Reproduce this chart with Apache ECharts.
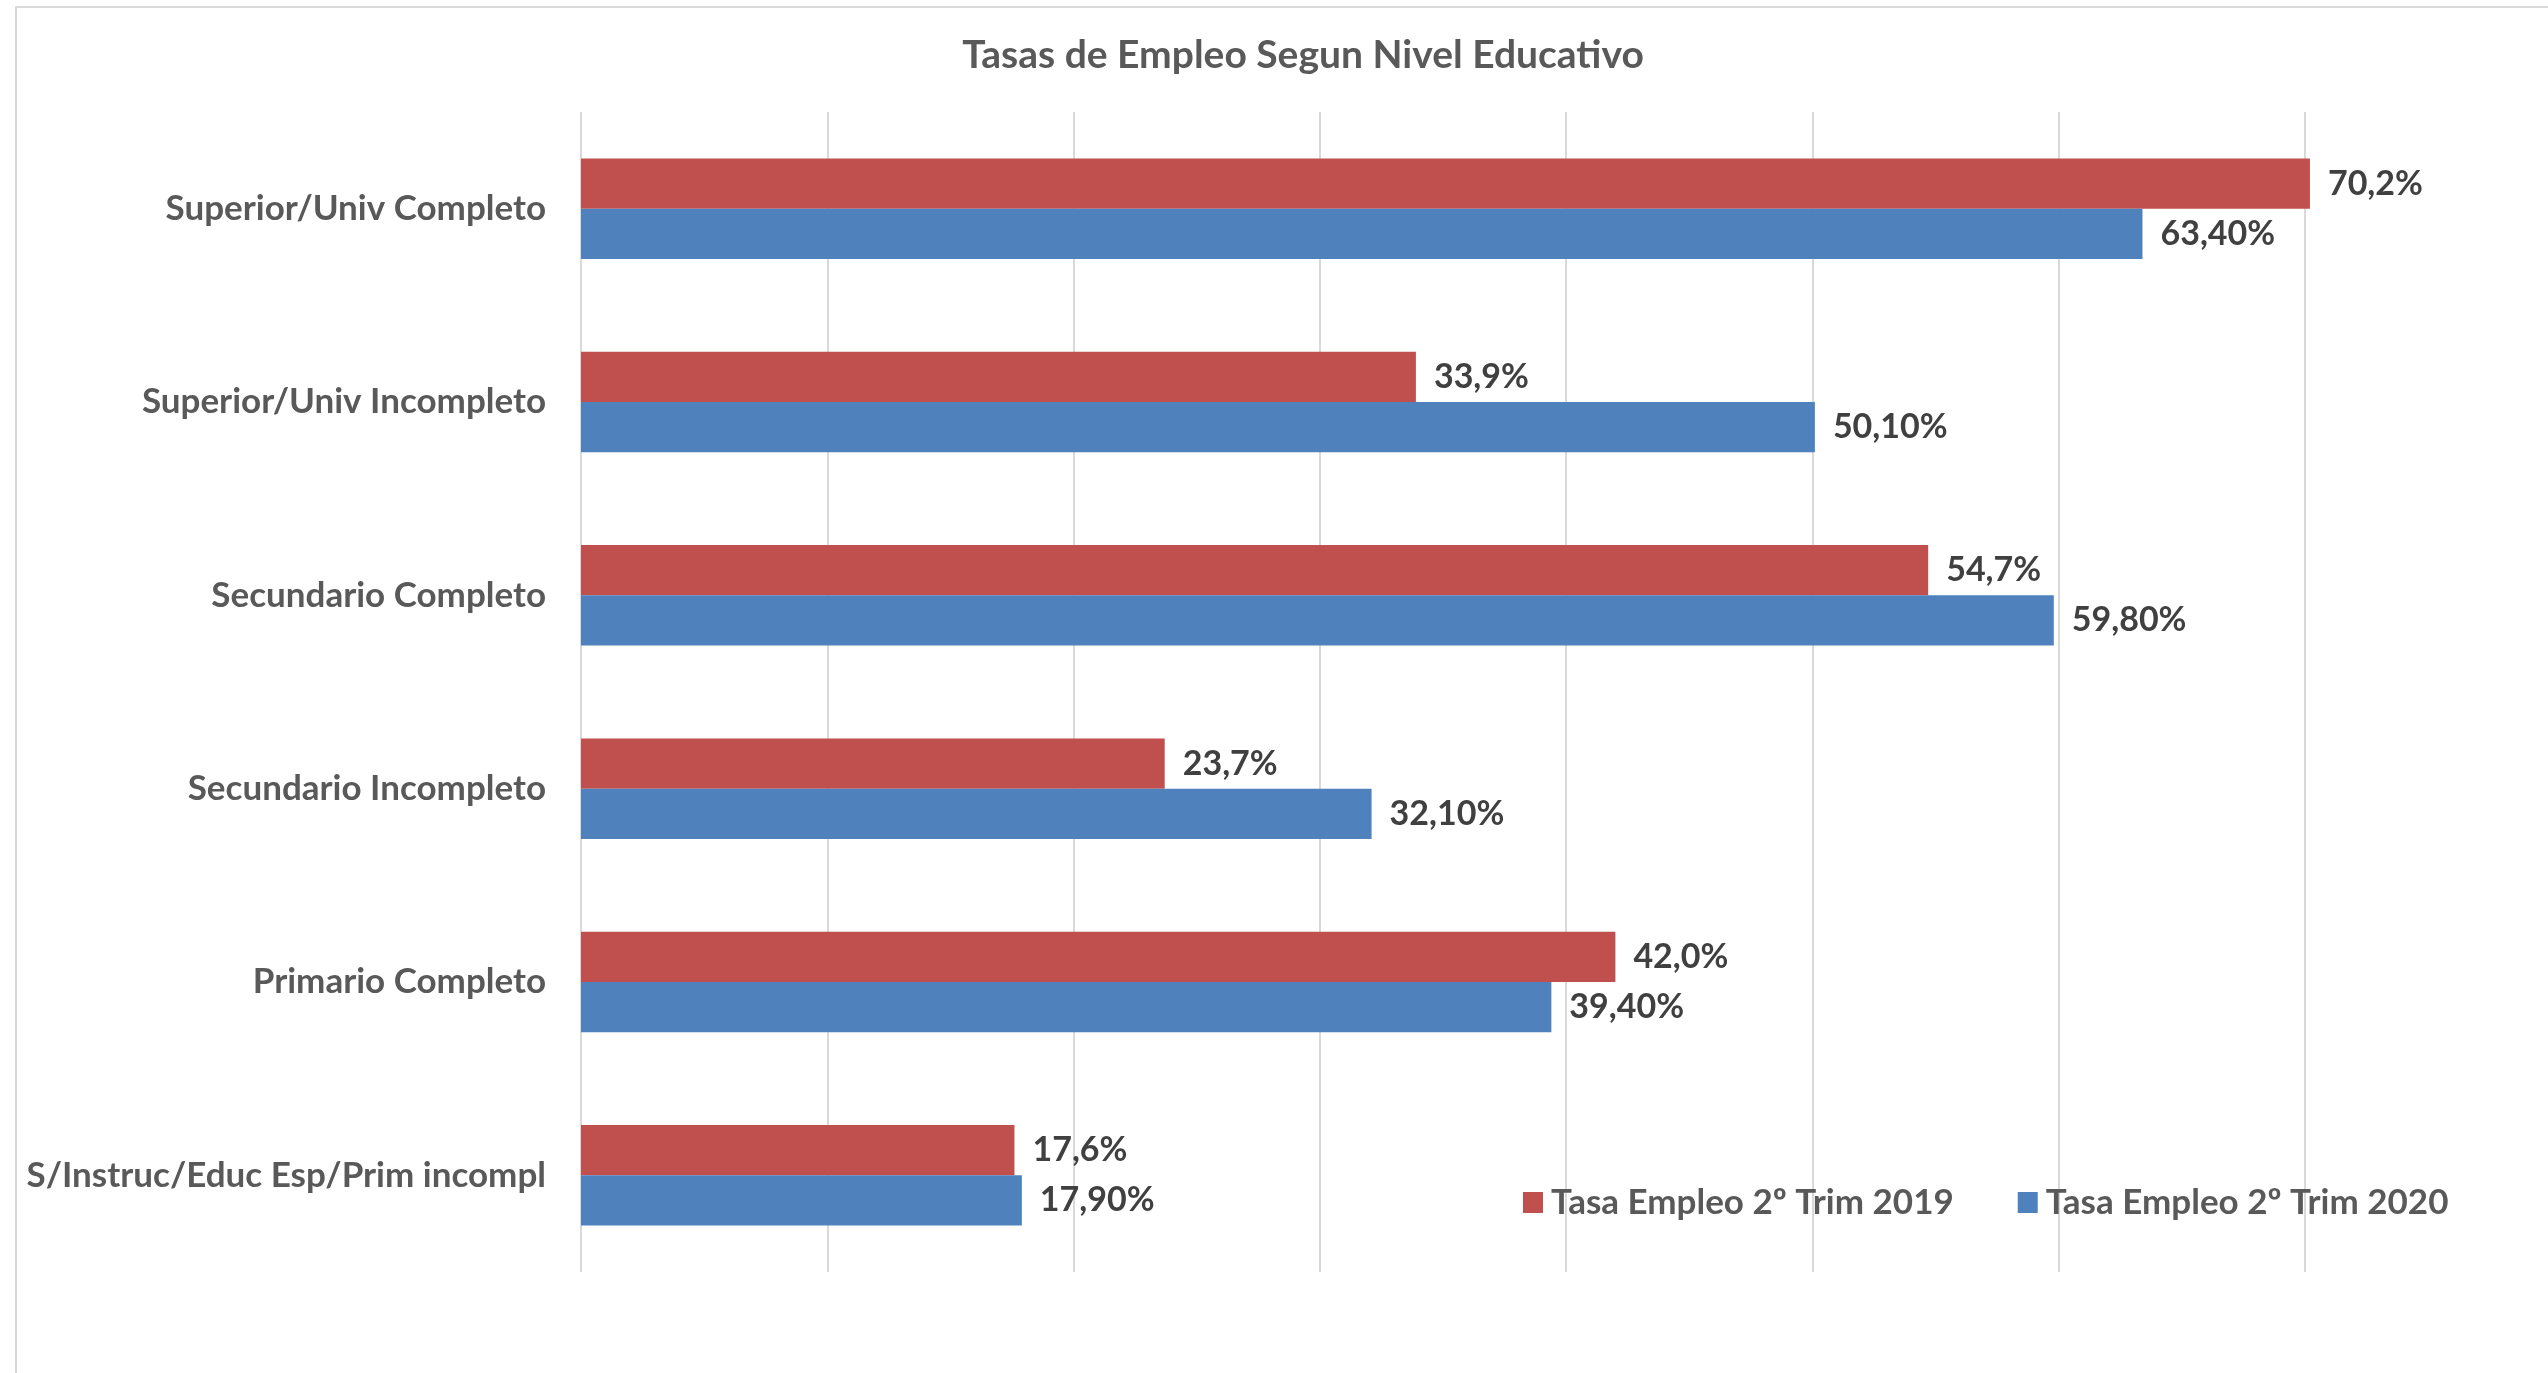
<!DOCTYPE html>
<html>
<head>
<meta charset="utf-8">
<script src="https://cdn.jsdelivr.net/npm/echarts@6/dist/echarts.min.js"></script>
<style>
  html, body { margin: 0; padding: 0; background: #fff; }
  #chart { width: 2548px; height: 1373px; }
</style>
</head>
<body>
<div id="chart"></div>
<script>
// categories, top to bottom
const categories = [
  'Superior/Univ Completo',
  'Superior/Univ Incompleto',
  'Secundario Completo',
  'Secundario Incompleto',
  'Primario Completo',
  'S/Instruc/Educ Esp/Prim incompl'
]
const tasa2019 = [70.2, 33.9, 54.7, 23.7, 42.0, 17.6]
const tasa2020 = [63.4, 50.1, 59.8, 32.1, 39.4, 17.9]
const seriesNames = ['Tasa Empleo 2º Trim 2019', 'Tasa Empleo 2º Trim 2020']
const xTicks = [0, 10, 20, 30, 40, 50, 60, 70]

const FONT = 'Lato, "Open Sans", sans-serif'
const fmt = (v, d) => v.toFixed(d).replace('.', ',') + '%'

const myChart = echarts.init(document.getElementById('chart'))

const labelStyle = (digits) => ({
  show: true,
  position: 'right',
  distance: 18,
  fontFamily: FONT,
  fontWeight: 'bold',
  fontSize: 34,
  color: '#404040',
  formatter: p => fmt(p.value, digits)
})

const option = {
  backgroundColor: '#fff',
  animation: false,
  title: {
    text: 'Tasas de Empleo Segun Nivel Educativo',
    left: 1298,
    top: 31,
    textAlign: 'center',
    textStyle: {
      fontFamily: FONT,
      fontWeight: 'bold',
      fontSize: 39,
      color: '#595959'
    }
  },
  // chart frame (left + top edges visible)
  graphic: [{
    type: 'rect',
    shape: { x: 16, y: 7, width: 2700, height: 1500 },
    style: { fill: 'none', stroke: '#d9d9d9', lineWidth: 2 },
    silent: true
  }],
  legend: {
    data: seriesNames,
    left: 1518,
    top: 1180,
    icon: 'rect',
    itemWidth: 20,
    itemHeight: 21,
    itemGap: 64,
    textStyle: {
      fontFamily: FONT,
      fontWeight: 'bold',
      fontSize: 35,
      color: '#595959',
      padding: [0, 0, 0, 3]
    }
  },
  grid: {
    left: 581,
    right: 243,
    top: 112,
    bottom: 101,
    containLabel: false
  },
  xAxis: {
    type: 'value',
    min: xTicks[0],
    max: xTicks[xTicks.length - 1],
    interval: 10,
    axisLabel: { show: false },
    axisLine: { show: false },
    axisTick: { show: false },
    splitLine: { show: true, lineStyle: { color: '#d9d9d9', width: 2 } }
  },
  yAxis: {
    type: 'category',
    inverse: true,
    data: categories,
    axisLine: { show: false },
    axisTick: { show: false },
    axisLabel: {
      margin: 35,
      fontFamily: FONT,
      fontWeight: 'bold',
      fontSize: 35,
      color: '#595959'
    }
  },
  series: [
    {
      name: seriesNames[0],
      type: 'bar',
      data: tasa2019,
      clip: false,
      barGap: '0%',
      barCategoryGap: '48%',
      itemStyle: { color: '#C0504D' },
      label: labelStyle(1)
    },
    {
      name: seriesNames[1],
      type: 'bar',
      data: tasa2020,
      clip: false,
      barGap: '0%',
      barCategoryGap: '48%',
      itemStyle: { color: '#4F81BD' },
      label: labelStyle(2)
    }
  ]
}
myChart.setOption(option)
</script>
</body>
</html>
